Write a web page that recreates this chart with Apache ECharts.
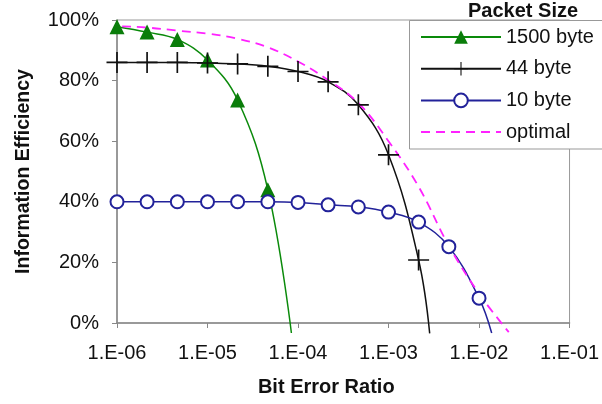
<!DOCTYPE html>
<html>
<head>
<meta charset="utf-8">
<script src="https://cdn.jsdelivr.net/npm/echarts@6/dist/echarts.min.js"></script>
<style>html,body{margin:0;padding:0;background:#fff;}#c{width:602px;height:404px;}</style>
</head>
<body>
<div id="c"></div>
<script>
// Bit error ratio sample points (x) and information efficiency in % (y)
const x1500 = [1e-6, 2.15e-6, 4.64e-6, 1e-5, 2.15e-5, 4.64e-5, 8.45e-5];
const y1500 = [97.8, 96, 93.6, 86.8, 73.6, 44, -3.3];
const x44 = [7.75e-7, 1e-6, 2.15e-6, 4.64e-6, 1e-5, 2.15e-5, 4.64e-5, 1e-4, 2.15e-4, 4.64e-4, 1e-3, 2.15e-3, 2.85e-3];
const y44 = [86, 86, 86, 86, 85.8, 85.5, 84.7, 83, 79.6, 72, 55.5, 20.8, -3.4];
const x10 = [1e-6, 2.15e-6, 4.64e-6, 1e-5, 2.15e-5, 4.64e-5, 1e-4, 2.15e-4, 4.64e-4, 1e-3, 2.15e-3, 4.64e-3, 1e-2, 1.38e-2];
const y10 = [40, 40, 40, 40, 40, 40, 39.8, 39, 38.3, 36.6, 33.3, 25.2, 8.2, -3.3];
const xOpt = [7.75e-7, 1e-6, 2.15e-6, 4.64e-6, 1e-5, 2.15e-5, 4.64e-5, 1e-4, 2.15e-4, 4.64e-4, 1e-3, 2.15e-3, 4.64e-3, 1e-2, 2.13e-2];
const yOpt = [98.3, 98, 97.5, 96.5, 95.5, 93.8, 91, 86.3, 80.2, 72.6, 60, 45, 25.5, 9.7, -3];
// points drawn without a marker (line ends)
const noMark1500 = [6];
const noMark44 = [0, 12];
const noMark10 = [13];
const seriesNames = ['1500 byte', '44 byte', '10 byte', 'optimal'];
const yTicks = [0, 20, 40, 60, 80, 100];
const xTitle = 'Bit Error Ratio';
const yTitle = 'Information Efficiency';
const legendTitle = 'Packet Size';

const FONT = 'Liberation Sans, Arial, sans-serif';
function pairs(xs, ys, noMark) {
  return xs.map((x, i) => noMark && noMark.indexOf(i) >= 0 ? {value: [x, ys[i]], symbol: 'none'} : [x, ys[i]]);
}
const crossPath = 'path://M9.2,0h1.6v20h-1.6z M0,9.2h20v1.6h-20z';

const chart = echarts.init(document.getElementById('c'), null, {renderer: 'canvas'});
chart.setOption({
  animation: false,
  backgroundColor: '#fff',
  textStyle: {fontFamily: FONT},
  title: {
    text: legendTitle, left: 468, top: 1, padding: 0,
    textStyle: {fontFamily: FONT, fontSize: 20, fontWeight: 'bold', color: '#111'}
  },
  grid: {left: 117, right: 31, top: 20, bottom: 81, show: true, borderColor: '#999', borderWidth: 1},
  graphic: [{
    type: 'rect', z: 3, silent: true,
    shape: {x: 409.5, y: 20.5, width: 260, height: 128.5},
    style: {fill: '#fff', stroke: '#999', lineWidth: 1}
  }],
  legend: {
    orient: 'vertical', left: 409, top: 20,
    data: seriesNames.map((n, i) => i === 3 ? {name: n, itemStyle: {opacity: 0}} : n),
    itemWidth: 80, itemHeight: 17, itemGap: 11.7,
    padding: [7, 0, 7, 11],
    textStyle: {fontFamily: FONT, fontSize: 20, color: '#111'}
  },
  xAxis: {
    type: 'log', logBase: 10, min: 1e-6, max: 1e-1,
    name: xTitle, nameLocation: 'middle', nameGap: 54,
    nameTextStyle: {fontFamily: FONT, fontSize: 20, fontWeight: 'bold', color: '#111', padding: [0, 34, 0, 0]},
    axisLine: {show: true, lineStyle: {color: '#888', width: 1.5}},
    axisTick: {show: true, length: 5, lineStyle: {color: '#888'}},
    minorTick: {show: false},
    splitLine: {show: false},
    axisLabel: {
      margin: 20, fontSize: 20, color: '#111', fontFamily: FONT,
      formatter: function (v) {
        const e = Math.round(Math.log10(v));
        const a = Math.abs(e);
        return '1.E' + (e < 0 ? '-' : '+') + (a < 10 ? '0' : '') + a;
      }
    }
  },
  yAxis: {
    type: 'value', min: yTicks[0], max: yTicks[yTicks.length - 1], interval: 20,
    name: yTitle, nameLocation: 'middle', nameGap: 83, nameRotate: 90,
    nameTextStyle: {fontFamily: FONT, fontSize: 19.5, fontWeight: 'bold', color: '#111'},
    axisLine: {show: true, lineStyle: {color: '#888', width: 1.5}},
    axisTick: {show: true, length: 5, lineStyle: {color: '#888'}},
    splitLine: {show: false},
    axisLabel: {margin: 18, fontSize: 20, color: '#111', fontFamily: FONT, formatter: '{value}%'}
  },
  series: [
    {
      name: seriesNames[0], type: 'line', clip: false, smooth: 0.4,
      data: pairs(x1500, y1500, noMark1500),
      symbol: 'triangle', symbolSize: 15, showAllSymbol: true,
      lineStyle: {color: '#0a8a0a', width: 1.5},
      itemStyle: {color: '#0a7d0a'}
    },
    {
      name: seriesNames[1], type: 'line', clip: false, smooth: 0.4,
      data: pairs(x44, y44, noMark44),
      symbol: crossPath, symbolSize: 21, showAllSymbol: true,
      lineStyle: {color: '#111', width: 1.5},
      itemStyle: {color: '#111'}
    },
    {
      name: seriesNames[2], type: 'line', clip: false, smooth: 0.4,
      data: pairs(x10, y10, noMark10),
      symbol: 'emptyCircle', symbolSize: 13, showAllSymbol: true,
      lineStyle: {color: '#22229a', width: 1.5},
      itemStyle: {color: '#22229a', borderWidth: 1.5}
    },
    {
      name: seriesNames[3], type: 'line', clip: false, smooth: 0.4,
      data: pairs(xOpt, yOpt),
      symbol: 'circle', showSymbol: false,
      lineStyle: {color: '#ff22ff', width: 1.8, type: [9, 6]},
      itemStyle: {color: '#ff22ff'}
    }
  ]
});
</script>
</body>
</html>
